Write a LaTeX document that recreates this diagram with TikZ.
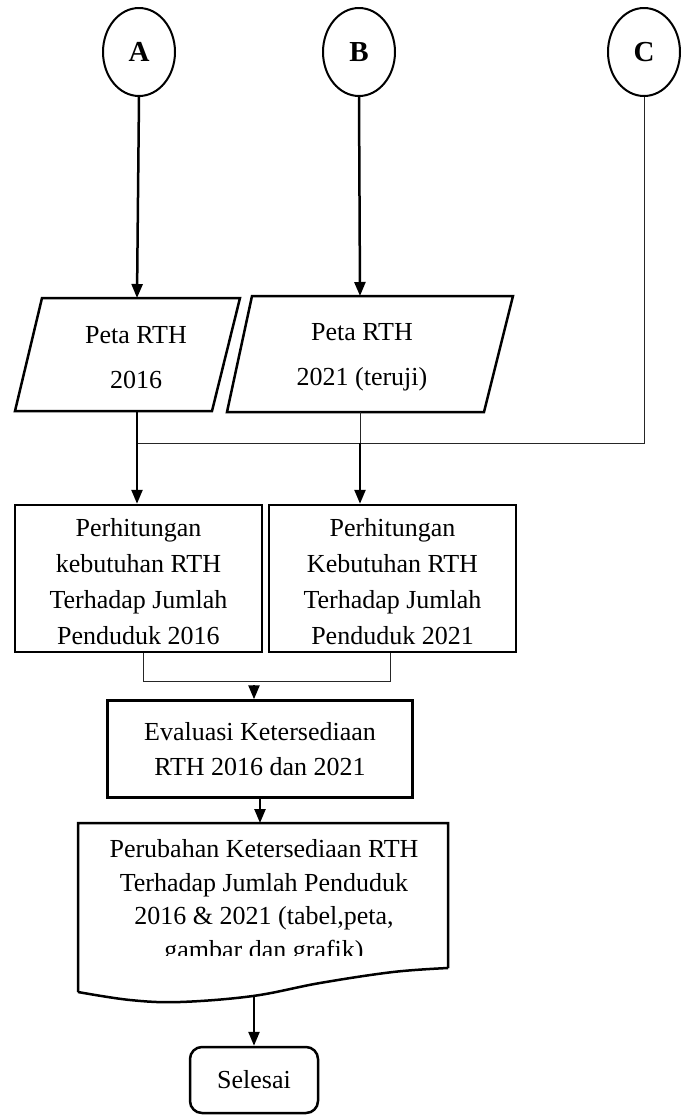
\documentclass[tikz,border=0pt]{standalone}
\usepackage{fontspec}
\setmainfont{Liberation Serif}
\usetikzlibrary{arrows.meta,shapes.geometric,calc}
\begin{document}
\begin{tikzpicture}[x=1pt,y=-1pt,
  thickln/.style={line width=2.5pt},
  thinln/.style={line width=1pt, draw=black!85},
  arr/.style={-{Triangle[length=14pt,width=11pt]}, line width=2.5pt},
  lbl/.style={align=center, font=\fontsize{26}{36}\selectfont},
  conn/.style={ellipse, draw, line width=2pt, minimum width=72pt, minimum height=88pt, inner sep=0pt, font=\bfseries\fontsize{29}{29}\selectfont},
  procbox/.style={draw, line width=2.5pt, align=center, inner sep=0pt}]
\useasboundingbox (0,0) rectangle (686,1120);

% connectors
\node[conn] (A) at (139,52) {A};
\node[conn] (B) at (359,52) {B};
\node[conn] (C) at (644,52) {C};

% parallelograms
\draw[thickln] (42,298) -- (240,298) -- (212,411) -- (15,411) -- cycle;
\node[lbl, font=\fontsize{26}{45}\selectfont] (p1) at (136,358) {Peta RTH\\2016};
\coordinate (p1t) at (137,298);
\coordinate (p1b) at (137,411);
\draw[thickln] (252,296) -- (513,296) -- (484,412) -- (227,412) -- cycle;
\node[lbl, font=\fontsize{26}{45}\selectfont] (p2) at (362,357) {Peta RTH\\2021 (teruji)};
\coordinate (p2t) at (360,296);
\coordinate (p2b) at (360,412);

% boxes
\node[procbox, lbl, minimum width=247pt, minimum height=147pt] (b1) at (138.5,578.5) {\raisebox{0pt}[24pt][0pt]{}Perhitungan\\kebutuhan RTH\\Terhadap Jumlah\\Penduduk 2016};
\node[procbox, lbl, minimum width=247pt, minimum height=147pt] (b2) at (392.5,578.5) {\raisebox{0pt}[24pt][0pt]{}Perhitungan\\Kebutuhan RTH\\Terhadap Jumlah\\Penduduk 2021};
\node[procbox, lbl, font=\fontsize{26}{35}\selectfont, minimum width=305pt, minimum height=97pt] (b3) at (260,749) {Evaluasi Ketersediaan\\RTH 2016 dan 2021};

% document
\draw[thickln] (78,992) -- (78,823) -- (448,823) -- (448,968)
  plot[smooth, tension=0.6] coordinates {(448,968) (393,972) (320,983) (253,996) (180,1002) (130,1000) (78,992)};
\coordinate (dt) at (260,823);
\coordinate (db) at (254,996);
\begin{scope}
  \clip (80,825) rectangle (446,955);
  \node[lbl, font=\fontsize{26}{33.5}\selectfont, anchor=north] (doc) at (264,836) {Perubahan Ketersediaan RTH\\Terhadap Jumlah Penduduk\\2016 \& 2021 (tabel,peta,\\gambar dan grafik)};
\end{scope}

% terminal
\node[draw, line width=2.5pt, rounded corners=12pt, minimum width=128pt, minimum height=66pt, lbl] (end) at (254,1080) {Selesai};

% connections
\draw[arr] (A.south) -- (p1t);
\draw[arr] (B.south) -- (p2t);
\coordinate (j1) at (137,443);
\coordinate (j2) at (360,443);
\draw[thinln] (C.south) -- (644,443) -- (j1);
\draw[thinln] (p2b) -- (j2);
\draw[arr] (p1b) -- (b1.north -| p1b);
\draw[arr] (j2) -- (b2.north -| j2);
\coordinate (k1) at (143,681);
\coordinate (k2) at (390,681);
\draw[thinln] (b1.south -| k1) -- (k1) -- (k2) -- (b2.south -| k2);
\coordinate (k3) at (254,685);
\draw[arr] (k3) -- (b3.north -| k3);
\draw[arr] (b3.south -| dt) -- (dt);
\draw[arr] (db) -- (end.north);
\end{tikzpicture}
\end{document}
